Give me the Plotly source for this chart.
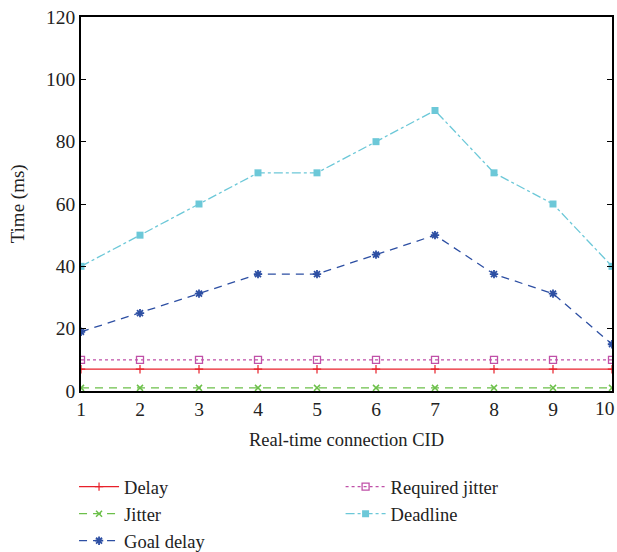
import plotly.graph_objects as go

cid = [1, 2, 3, 4, 5, 6, 7, 8, 9, 10]
delay = [7, 7, 7, 7, 7, 7, 7, 7, 7, 7]
jitter = [1, 1, 1, 1, 1, 1, 1, 1, 1, 1]
goal_delay = [19, 25, 31.25, 37.5, 37.5, 43.75, 50, 37.5, 31.25, 15]
required_jitter = [10, 10, 10, 10, 10, 10, 10, 10, 10, 10]
deadline = [40, 50, 60, 70, 70, 80, 90, 70, 60, 40]

FONT = "Liberation Serif"
TXT = "#222222"

fig = go.Figure()
fig.add_trace(go.Scatter(x=cid, y=delay, name="Delay", mode="lines+markers",
                         line=dict(color="#e8202a", width=1.3, dash="solid"),
                         marker=dict(symbol="cross-thin-open", size=6, color="#e8202a",
                                     line=dict(color="#e8202a", width=1.2)),
                         legend="legend", legendgroup="a"))
fig.add_trace(go.Scatter(x=cid, y=jitter, name="Jitter", mode="lines+markers",
                         line=dict(color="#6cc04a", width=1.3, dash="8px,6px"),
                         marker=dict(symbol="x-thin-open", size=6, color="#6cc04a",
                                     line=dict(color="#6cc04a", width=1.5)),
                         legend="legend", legendgroup="b"))
fig.add_trace(go.Scatter(x=cid, y=goal_delay, name="Goal delay", mode="lines+markers",
                         line=dict(color="#2d4fa3", width=1.3, dash="8px,6px"),
                         marker=dict(symbol="asterisk-open", size=7, color="#2d4fa3",
                                     line=dict(color="#2d4fa3", width=1.8)),
                         legend="legend", legendgroup="c"))
fig.add_trace(go.Scatter(x=cid, y=required_jitter, name="Required jitter", mode="lines+markers",
                         line=dict(color="#c050a8", width=1.3, dash="dot"),
                         marker=dict(symbol="square-open", size=7, color="#c050a8",
                                     line=dict(color="#c050a8", width=1.3)),
                         legend="legend2", legendgroup="d"))
fig.add_trace(go.Scatter(x=cid, y=deadline, name="Deadline", mode="lines+markers",
                         line=dict(color="#6cc8d8", width=1.3, dash="dashdot"),
                         marker=dict(symbol="square", size=7, color="#6cc8d8"),
                         legend="legend2", legendgroup="e"))

leg_common = dict(xref="container", yref="container", xanchor="left", yanchor="top",
                  bgcolor="rgba(0,0,0,0)", itemwidth=40, tracegroupgap=0,
                  font=dict(family=FONT, size=18.5, color=TXT))

fig.update_layout(
    width=617, height=552,
    margin=dict(l=81, r=5, t=17, b=161, autoexpand=False),
    plot_bgcolor="white", paper_bgcolor="white",
    font=dict(family=FONT, size=19, color=TXT),
    showlegend=True,
    legend=dict(x=0.12, y=0.152, **leg_common),
    legend2=dict(x=0.552, y=0.152, **leg_common),
)
fig.add_annotation(text="Time (ms)", xref="paper", yref="paper", x=-0.118, y=0.5,
                   xanchor="center", yanchor="middle", textangle=-90, showarrow=False,
                   font=dict(family=FONT, size=19, color=TXT))
# last x tick label nudged left so it stays inside the page
fig.add_annotation(text=str(cid[-1]), xref="x", yref="paper", x=cid[-1], y=0,
                   xanchor="right", yanchor="top", xshift=5, yshift=-5, showarrow=False,
                   font=dict(family=FONT, size=19.5, color=TXT))
fig.update_xaxes(range=[1, 10], tickvals=cid[:-1], showgrid=False, zeroline=False,
                 showline=True, linecolor="black", linewidth=1.5, mirror=True,
                 ticks="",
                 title=dict(text="Real-time connection CID", standoff=14,
                            font=dict(family=FONT, size=18.5, color=TXT)),
                 tickfont=dict(size=19.5))
fig.update_yaxes(range=[0, 120], dtick=20, showgrid=False, zeroline=False,
                 showline=True, linecolor="black", linewidth=1.5, mirror="ticks",
                 ticks="inside", ticklen=5, tickcolor="black",
                 tickfont=dict(size=19.5))

fig.write_html("out.html")
